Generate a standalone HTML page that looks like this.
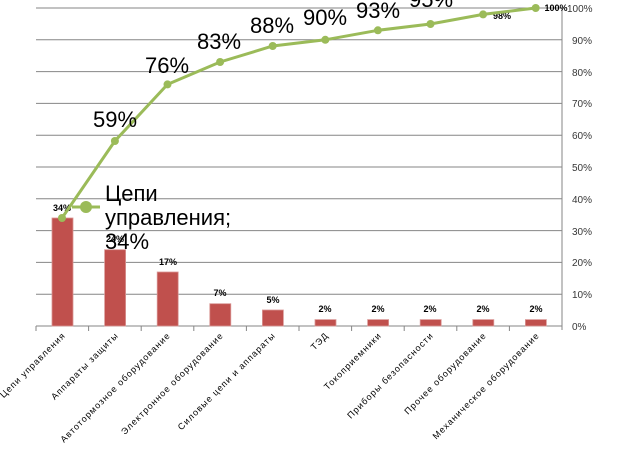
<!DOCTYPE html>
<html><head><meta charset="utf-8"><style>body{margin:0;background:#fff}</style></head><body>
<svg width="624" height="462" xmlns="http://www.w3.org/2000/svg" font-family="Liberation Sans, sans-serif">
<g stroke="#868686" stroke-width="1">
<line x1="36" x2="562" y1="8" y2="8"/><line x1="36" x2="562" y1="39.8" y2="39.8"/><line x1="36" x2="562" y1="71.6" y2="71.6"/><line x1="36" x2="562" y1="103.4" y2="103.4"/><line x1="36" x2="562" y1="135.2" y2="135.2"/><line x1="36" x2="562" y1="167" y2="167"/><line x1="36" x2="562" y1="198.8" y2="198.8"/><line x1="36" x2="562" y1="230.6" y2="230.6"/><line x1="36" x2="562" y1="262.4" y2="262.4"/><line x1="36" x2="562" y1="294.2" y2="294.2"/><line x1="36" x2="562" y1="326" y2="326"/>
<line x1="562" x2="562" y1="8" y2="330"/>
<line x1="36" x2="36" y1="326" y2="331"/><line x1="88.6" x2="88.6" y1="326" y2="331"/><line x1="141.2" x2="141.2" y1="326" y2="331"/><line x1="193.8" x2="193.8" y1="326" y2="331"/><line x1="246.4" x2="246.4" y1="326" y2="331"/><line x1="299" x2="299" y1="326" y2="331"/><line x1="351.6" x2="351.6" y1="326" y2="331"/><line x1="404.2" x2="404.2" y1="326" y2="331"/><line x1="456.8" x2="456.8" y1="326" y2="331"/><line x1="509.4" x2="509.4" y1="326" y2="331"/>
</g>
<g fill="#000" font-size="10" fill-opacity="0.8">
<text x="567" y="12">100%</text><text x="572" y="44">90%</text><text x="572" y="76">80%</text><text x="572" y="107">70%</text><text x="572" y="139">60%</text><text x="572" y="171">50%</text><text x="572" y="203">40%</text><text x="572" y="235">30%</text><text x="572" y="266">20%</text><text x="572" y="298">10%</text><text x="572" y="330">0%</text>
</g>
<g fill="#c0504d" stroke="#d99694" stroke-width="0.8">
<rect x="52" y="218" width="21" height="108"/><rect x="104.6" y="249.7" width="21" height="76.3"/><rect x="157.2" y="272" width="21" height="54"/><rect x="209.8" y="303.7" width="21" height="22.3"/><rect x="262.4" y="310" width="21" height="16"/><rect x="315" y="319.6" width="21" height="6.4"/><rect x="367.6" y="319.6" width="21" height="6.4"/><rect x="420.2" y="319.6" width="21" height="6.4"/><rect x="472.8" y="319.6" width="21" height="6.4"/><rect x="525.4" y="319.6" width="21" height="6.4"/>
</g>
<g font-size="9" font-weight="bold" text-anchor="middle">
<text x="62" y="211">34%</text><text x="115" y="242">24%</text><text x="168" y="265">17%</text><text x="220" y="296">7%</text><text x="273" y="303">5%</text><text x="325" y="312">2%</text><text x="378" y="312">2%</text><text x="430" y="312">2%</text><text x="483" y="312">2%</text><text x="536" y="312">2%</text>
<text x="502" y="19">98%</text><text x="556" y="11">100%</text>
</g>
<polyline fill="none" stroke="#9bbb59" stroke-width="3" points="62,218 114.9,141 167.5,84.4 220.1,62 272.7,46 325.3,39.8 377.9,30.3 430.5,24 483.1,14.4 535.7,8"/>
<g fill="#9bbb59">
<circle cx="62" cy="218" r="4"/><circle cx="114.9" cy="141" r="4"/><circle cx="167.5" cy="84.4" r="4"/><circle cx="220.1" cy="62" r="4"/><circle cx="272.7" cy="46" r="4"/><circle cx="325.3" cy="39.8" r="4"/><circle cx="377.9" cy="30.3" r="4"/><circle cx="430.5" cy="24" r="4"/><circle cx="483.1" cy="14.4" r="4"/><circle cx="535.7" cy="8" r="4"/>
<rect x="72" y="205.5" width="28" height="3"/><circle cx="86" cy="207" r="6"/>
</g>
<g font-size="22" fill="#000" text-anchor="middle">
<text x="115" y="127">59%</text><text x="167" y="73">76%</text><text x="219" y="49">83%</text><text x="272" y="33">88%</text><text x="325" y="25">90%</text><text x="378" y="18">93%</text><text x="431" y="7">95%</text>
</g>
<g font-size="22" fill="#000">
<text x="105" y="201">Цепи</text><text x="105" y="225">управления;</text><text x="105" y="249">34%</text>
</g>
<g font-size="9" fill="#000" text-anchor="end" letter-spacing="1">
<text transform="translate(66,336) rotate(-45)">Цепи управления</text>
<text transform="translate(119,336) rotate(-45)">Аппараты защиты</text>
<text transform="translate(171,336) rotate(-45)">Автотормозное оборудование</text>
<text transform="translate(224,336) rotate(-45)">Электронное оборудование</text>
<text transform="translate(276,336) rotate(-45)">Силовые цепи и аппараты</text>
<text transform="translate(329,336) rotate(-45)">ТЭД</text>
<text transform="translate(382,336) rotate(-45)">Токоприемники</text>
<text transform="translate(434,336) rotate(-45)">Приборы безопасности</text>
<text transform="translate(487,336) rotate(-45)">Прочее оборудование</text>
<text transform="translate(540,336) rotate(-45)">Механическое оборудование</text>
</g>
</svg>
</body></html>
